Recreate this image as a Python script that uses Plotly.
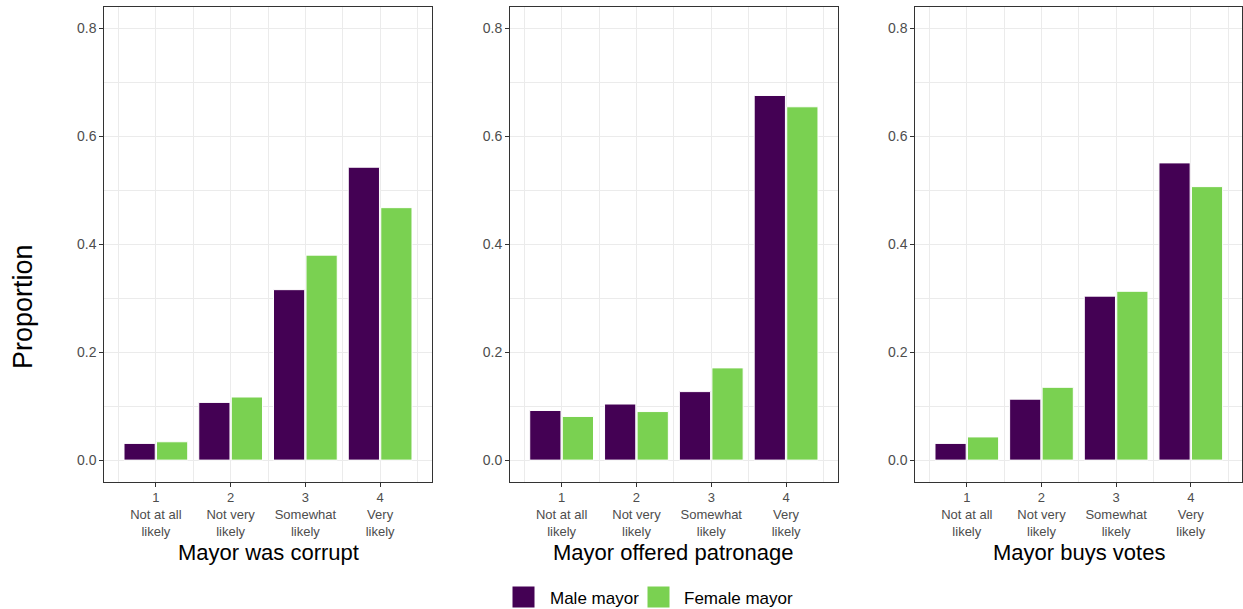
import plotly.graph_objects as go

W, H = 1243, 609

categories = [1, 2, 3, 4]
tick_labels = ["1<br>Not at all<br>likely", "2<br>Not very<br>likely",
               "3<br>Somewhat<br>likely", "4<br>Very<br>likely"]
panel_titles = ["Mayor was corrupt", "Mayor offered patronage", "Mayor buys votes"]

corrupt_male = [0.031, 0.107, 0.316, 0.543]
corrupt_female = [0.034, 0.117, 0.380, 0.468]
patronage_male = [0.092, 0.104, 0.127, 0.676]
patronage_female = [0.081, 0.090, 0.171, 0.655]
votes_male = [0.031, 0.113, 0.304, 0.551]
votes_female = [0.043, 0.135, 0.313, 0.507]

series_names = ["Male mayor", "Female mayor"]
colors = ["#440154", "#7AD151"]

panels = [
    (corrupt_male, corrupt_female),
    (patronage_male, patronage_female),
    (votes_male, votes_female),
]

# panel pixel extents
px_left = [104.3, 510.0, 915.3]
px_right = [431.7, 837.7, 1242.3]
py_top, py_bottom = 7.0, 481.7

FONT = "Liberation Sans, Arial, sans-serif"

fig = go.Figure()
for i, (m, f) in enumerate(panels):
    sfx = "" if i == 0 else str(i + 1)
    for name, vals, col in zip(series_names, (m, f), colors):
        fig.add_trace(go.Bar(
            x=categories, y=vals, name=name,
            marker=dict(color=col, line=dict(color="white", width=1)),
            xaxis="x" + sfx, yaxis="y" + sfx, showlegend=False,
        ))

layout = dict(
    width=W, height=H,
    margin=dict(l=0, r=0, t=0, b=0),
    paper_bgcolor="white", plot_bgcolor="white",
    barmode="group", bargap=0.13, bargroupgap=0.04,
    font=dict(family=FONT, color="#4D4D4D"),
    showlegend=False,
)

ydom = [1 - py_bottom / H, 1 - py_top / H]
for i in range(3):
    sfx = "" if i == 0 else str(i + 1)
    xdom = [px_left[i] / W, px_right[i] / W]
    layout["xaxis" + sfx] = dict(
        domain=xdom, anchor="y" + sfx, range=[0.31, 4.69],
        tickmode="array", tickvals=categories, ticktext=tick_labels,
        ticks="outside", ticklen=4, tickcolor="#333333", tickwidth=1,
        tickfont=dict(size=13, color="#4D4D4D", family=FONT),
        showgrid=True, gridcolor="#EBEBEB", gridwidth=1.1,
        minor=dict(tickmode="array", tickvals=[0.5, 1.5, 2.5, 3.5, 4.5],
                   showgrid=True, gridcolor="#EBEBEB", gridwidth=0.55, ticks=""),
        showline=True, linecolor="#333333", linewidth=1, mirror=True,
        zeroline=False, fixedrange=True,
    )
    layout["yaxis" + sfx] = dict(
        domain=ydom, anchor="x" + sfx, range=[-0.04, 0.84],
        tickmode="array", tickvals=[0, 0.2, 0.4, 0.6, 0.8], tickformat=".1f",
        ticks="outside", ticklen=4, tickcolor="#333333", tickwidth=1,
        tickfont=dict(size=14, color="#4D4D4D", family=FONT),
        showgrid=True, gridcolor="#EBEBEB", gridwidth=1.1,
        minor=dict(tickmode="array", tickvals=[0.1, 0.3, 0.5, 0.7],
                   showgrid=True, gridcolor="#EBEBEB", gridwidth=0.55, ticks=""),
        showline=True, linecolor="#333333", linewidth=1, mirror=True,
        zeroline=False, fixedrange=True,
    )

annotations = []
for i, t in enumerate(panel_titles):
    cx = (px_left[i] + px_right[i]) / 2 / W
    annotations.append(dict(
        text=t, x=cx, y=1 - 552.5 / H, xref="paper", yref="paper",
        xanchor="center", yanchor="middle", showarrow=False,
        font=dict(size=22, color="black", family=FONT),
    ))
annotations.append(dict(
    text="Proportion", x=23 / W, y=1 - 307 / H, xref="paper", yref="paper",
    xanchor="center", yanchor="middle", showarrow=False, textangle=-90,
    font=dict(size=27, color="black", family=FONT),
))

# legend (manual, ggplot-style keys)
shapes = []
leg_items = [(512, 548, series_names[0], colors[0]),
             (647, 682, series_names[1], colors[1])]
for x0, tx, name, col in leg_items:
    shapes.append(dict(
        type="rect", xref="paper", yref="paper",
        x0=x0 / W, x1=(x0 + 23) / W, y0=1 - 608 / H, y1=1 - 586 / H,
        fillcolor=col, line=dict(color="white", width=1),
    ))
    annotations.append(dict(
        text=name, x=tx / W, y=1 - 598 / H, xref="paper", yref="paper",
        xanchor="left", yanchor="middle", showarrow=False,
        font=dict(size=17, color="black", family=FONT),
    ))

layout["annotations"] = annotations
layout["shapes"] = shapes
fig.update_layout(**layout)
fig.write_html(
    "out.html",
    config={"displayModeBar": False},
    post_script="document.body.style.margin='0px';document.body.style.padding='0px';",
)
